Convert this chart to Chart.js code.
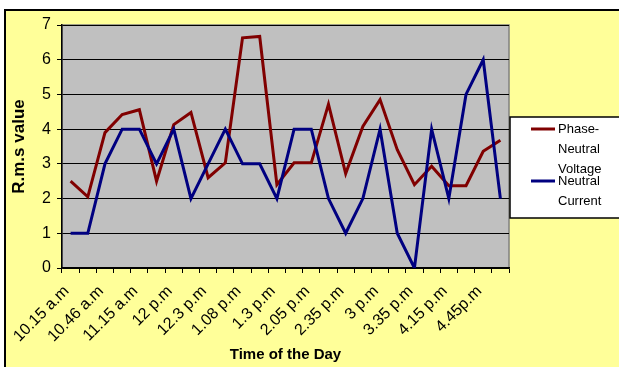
<!DOCTYPE html>
<html>
<head>
<meta charset="utf-8">
<script src="https://cdn.jsdelivr.net/npm/chart.js@4/dist/chart.umd.min.js"></script>
<style>
  html, body { margin: 0; padding: 0; background: #fff; }
  #wrap { width: 619px; height: 367px; }
</style>
</head>
<body>
<div id="wrap"><canvas id="c" width="619" height="367"></canvas></div>
<script>
// Readings across the day; every other sample carries a time label on the axis.
const tickLabels = ['10.15 a.m', '10.46 a.m', '11.15 a.m', '12 p.m', '12.3 p.m', '1.08 p.m',
                    '1.3 p.m', '2.05 p.m', '2.35 p.m', '3 p.m', '3.35 p.m', '4.15 p.m', '4.45p.m'];
const categories = tickLabels.flatMap(t => [t, '']);

const seriesNames = ['Phase-Neutral Voltage', 'Neutral Current'];
const voltage = [2.5, 2.05, 3.9, 4.42, 4.56, 2.5, 4.13, 4.48, 2.6, 3.03, 6.63, 6.67, 2.4,
                 3.03, 3.03, 4.72, 2.72, 4.08, 4.85, 3.41, 2.4, 2.93, 2.37, 2.37, 3.36, 3.68];
const current = [1, 1, 3, 4, 4, 3, 4, 2, 3, 4, 3, 3, 2,
                 4, 4, 2, 1, 2, 4, 1, 0, 4, 2, 5, 6, 2];

const seriesColors = ['#800000', '#000080'];
const FONT = 'Liberation Sans, Arial, sans-serif';

// Yellow chart frame and grey plot area
const framePlugin = {
  id: 'frame',
  beforeDraw(chart) {
    const { ctx, chartArea: a } = chart;
    ctx.save();
    ctx.fillStyle = '#ffffff';
    ctx.fillRect(0, 0, chart.width, chart.height);
    ctx.fillStyle = '#ffff99';
    ctx.fillRect(5, 10, chart.width, chart.height);
    ctx.strokeStyle = '#000';
    ctx.lineWidth = 2;
    ctx.strokeRect(5, 10, chart.width + 10, chart.height + 10);
    ctx.fillStyle = '#c0c0c0';
    ctx.fillRect(a.left, a.top, a.right - a.left, a.bottom - a.top);
    ctx.strokeStyle = '#808080';
    ctx.lineWidth = 1.5;
    ctx.strokeRect(a.left, a.top, a.right - a.left, a.bottom - a.top);
    ctx.restore();
  }
};

// Boxed legend to the right of the plot, with wrapped series names
function wrapWords(ctx, text, maxWidth) {
  const parts = text.match(/[^\s-]+-?/g);
  const lines = [];
  let cur = '';
  parts.forEach(p => {
    const joiner = cur && !cur.endsWith('-') ? ' ' : '';
    const test = cur + joiner + p;
    if (cur && ctx.measureText(test).width > maxWidth) {
      lines.push(cur);
      cur = p;
    } else {
      cur = test;
    }
  });
  if (cur) lines.push(cur);
  return lines;
}

const legendPlugin = {
  id: 'sideLegend',
  afterDraw(chart) {
    const { ctx } = chart;
    const box = { x: 510, y: 117, w: 130, h: 101 };
    ctx.save();
    ctx.fillStyle = '#ffffff';
    ctx.fillRect(box.x, box.y, box.w, box.h);
    ctx.strokeStyle = '#000';
    ctx.lineWidth = 1.5;
    ctx.strokeRect(box.x, box.y, box.w, box.h);
    ctx.font = '13px ' + FONT;
    ctx.textBaseline = 'middle';
    ctx.textAlign = 'left';
    const lineGap = 20;
    let y = 129;
    chart.data.datasets.forEach(ds => {
      ctx.strokeStyle = ds.borderColor;
      ctx.lineWidth = 3;
      ctx.beginPath();
      ctx.moveTo(531, y);
      ctx.lineTo(555, y);
      ctx.stroke();
      const lines = wrapWords(ctx, ds.label, 50);
      ctx.fillStyle = '#000';
      lines.forEach((ln, i) => ctx.fillText(ln, 558, y + i * lineGap));
      y += lines.length * lineGap - 8;
    });
    ctx.restore();
  }
};

new Chart(document.getElementById('c'), {
  type: 'line',
  data: {
    labels: categories,
    datasets: [
      { label: seriesNames[0], data: voltage, borderColor: seriesColors[0], order: 1 },
      { label: seriesNames[1], data: current, borderColor: seriesColors[1], order: 0 }
    ]
  },
  options: {
    responsive: false,
    animation: false,
    devicePixelRatio: 1,
    layout: { padding: { left: 5, top: 25, right: 110, bottom: 0 } },
    elements: {
      line: { borderWidth: 3, tension: 0, fill: false },
      point: { radius: 0, hoverRadius: 0 }
    },
    plugins: {
      legend: { display: false },
      tooltip: { enabled: false }
    },
    scales: {
      x: {
        type: 'category',
        offset: true,
        grid: { offset: true, drawOnChartArea: false, drawTicks: true, tickLength: 5, color: '#000', lineWidth: 1 },
        border: { display: true, color: '#000', width: 1.5 },
        ticks: {
          autoSkip: false, minRotation: 45, maxRotation: 45,
          font: { family: FONT, size: 16 }, color: '#000', padding: 9, labelOffset: -4
        },
        title: {
          display: true, text: 'Time of the Day', color: '#000',
          font: { family: FONT, size: 15, weight: 'bold' }, padding: { top: 4, bottom: 3 }
        },
        afterFit(scale) { scale.height = 99; }
      },
      y: {
        min: 0, max: 7,
        grid: { color: '#000', lineWidth: 1, drawTicks: true, tickLength: 5 },
        border: { display: true, color: '#000', width: 1.5 },
        ticks: { stepSize: 1, font: { family: FONT, size: 16 }, color: '#000', padding: 6 },
        title: {
          display: true, text: 'R.m.s value', color: '#000',
          font: { family: FONT, size: 17, weight: 'bold' }, padding: { top: 4, bottom: 4 }
        },
        afterFit(scale) { scale.width = 57; }
      }
    }
  },
  plugins: [framePlugin, legendPlugin]
});
</script>
</body>
</html>
